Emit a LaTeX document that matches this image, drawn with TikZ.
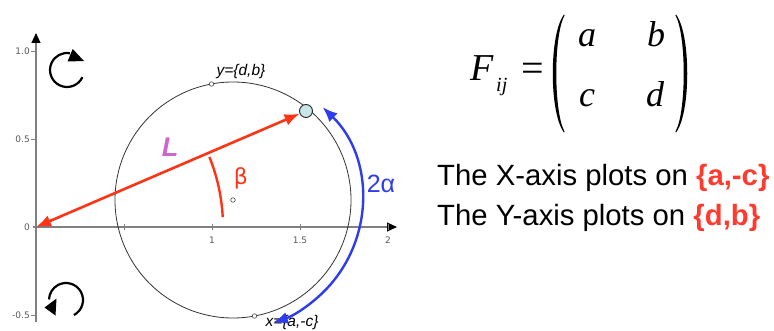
\documentclass[tikz,border=0pt]{standalone}
\usepackage{fontspec}
\setmainfont{Liberation Sans}
\newfontfamily\tms{Liberation Serif}
\newfontfamily\djv{DejaVu Sans}
\usetikzlibrary{arrows.meta,calc}
\definecolor{redl}{HTML}{FF3414}
\definecolor{redt}{HTML}{FF3B30}
\definecolor{bluel}{HTML}{2E3CF0}
\definecolor{orch}{HTML}{CC66CC}
\definecolor{pfill}{HTML}{C9E6E6}
\definecolor{axgray}{HTML}{808080}
\tikzset{
  axisline/.style={axgray, line width=1.1pt},
  ticklab/.style={text=black!65, font=\djv\fontsize{9}{10}\selectfont, inner sep=0pt},
  tickmark/.style={axgray, line width=0.9pt},
  dot/.style={circle, draw=black!70, fill=white, inner sep=0pt, minimum size=4.5pt, line width=0.6pt},
  rotarrow/.style={black, line width=2.2pt},
  mtx/.style={font=\tms\itshape\fontsize{36}{36}\selectfont, inner sep=0pt, anchor=base},
  desc/.style={font=\fontsize{29.3}{32}\selectfont, inner sep=0pt, anchor=base west},
  ptlab/.style={font=\itshape\fontsize{15.5}{16}\selectfont, inner sep=0pt},
}
\begin{document}
\begin{tikzpicture}[x=1pt,y=1pt]
\useasboundingbox (0,0) rectangle (774,330);
\coordinate (O) at (36,103);
\coordinate (C) at (233,130);
\coordinate (yb) at (36,8);
\coordinate (yt) at (36,297);
\coordinate (xl) at (33,103);
\coordinate (xr) at (397,103);
% axes
\draw[axisline, -{Triangle[length=10pt,width=9pt,color=black]}] (yb) -- (yt);
\draw[axisline, -{Triangle[length=10pt,width=9pt,color=black]}] (xl) -- (xr);
% ticks
\foreach \x in {124,212,300,388} \draw[tickmark] (\x,100) -- (\x,106);
\foreach \y in {279,191,15} \draw[tickmark] (31,\y) -- (36,\y);
\node[ticklab, anchor=east] (l10) at (30,279) {1.0};
\node[ticklab, anchor=east] (l05) at (30,191) {0.5};
\node[ticklab, anchor=east] (l0) at (30,103) {0};
\node[ticklab, anchor=east] (lm05) at (30,15) {-0.5};
\node[ticklab] (x1) at (212,90) {1};
\node[ticklab] (x15) at (300,90) {1.5};
\node[ticklab] (x2) at (388,90) {2};
% circle
\draw[black!80, line width=0.8pt] (C) circle[radius=118];
\node[dot] (cen) at (C) {};
\node[dot] (Yp) at ($(C)+(100.5:118)$) {};
\node[dot] (Xp) at ($(C)+(280.5:118)$) {};
\node[ptlab] (ylab) at (241,259) {y=\{d,b\}};
\node[ptlab] (xlab) at (292,8) {x=\{a,-c\}};
% point P
\node[circle, draw=black!85, fill=pfill, inner sep=0pt, minimum size=13pt, line width=0.9pt] (P) at (306,219) {};
% red vector
\draw[redl, line width=2.6pt, {Latex[length=15pt,width=12pt]}-{Latex[length=15pt,width=12pt]}] (O) -- (P);
% beta arc
\draw[redl, line width=2.4pt] ($(O)+(22:187)$) arc[start angle=22, end angle=3, radius=187];
\node[text=redl, font=\djv\fontsize{22}{24}\selectfont, inner sep=0pt] (beta) at (241,152) {β};
\node[text=orch, font=\bfseries\itshape\fontsize{27}{28}\selectfont, inner sep=0pt] (L) at (170,183) {L};
% blue arc
\draw[bluel, line width=2.4pt, {Latex[length=15pt,width=12pt]}-{Latex[length=15pt,width=12pt]}] ($(C)+(46:129)$) arc[start angle=46, end angle=-72, radius=129];
\node[text=bluel, font=\fontsize{25}{26}\selectfont, inner sep=0pt] (alpha) at (381,146) {2α};
% rotation arrows
\draw[rotarrow] ($(67,260)+(-25:17)$) arc[start angle=-25, end angle=-280, radius=17];
\fill[black] (72.7,281) -- (67.5,268.5) -- (84,269) -- cycle;
\draw[rotarrow] ($(66,30)+(-62:17)$) arc[start angle=-62, end angle=178, radius=17];
\fill[black] (44.5,22.5) -- (56.5,31.5) -- (55.5,14.5) -- cycle;
% matrix
\node[font=\tms\itshape\fontsize{38}{38}\selectfont, inner sep=0pt, anchor=base west] (F) at (470,249) {F};
\node[font=\tms\itshape\fontsize{20}{20}\selectfont, inner sep=0pt, anchor=base west] (ij) at (496,238) {ij};
\node[font=\tms\fontsize{40}{40}\selectfont, inner sep=0pt] (eq) at (533,258) {=};
\fill[black] (564,315.5) .. controls (549,296) and (549,217) .. (564,197.5) -- (564.6,198.2) .. controls (553.5,218) and (553.5,295) .. (564.6,314.8) -- cycle;
\fill[black] (676,315.5) .. controls (691,296) and (691,217) .. (676,197.5) -- (675.4,198.2) .. controls (686.5,218) and (686.5,295) .. (675.4,314.8) -- cycle;
\node[mtx] (ma) at (587,283) {a};
\node[mtx] (mb) at (656,283) {b};
\node[mtx] (mc) at (587,223) {c};
\node[mtx] (md) at (655,223) {d};
% text
\node[desc] (t1) at (437,145) {The X-axis plots on \textbf{\color{redt}\{a,-c\}}};
\node[desc] (t2) at (437,105) {The Y-axis plots on \textbf{\color{redt}\{d,b\}}};
\end{tikzpicture}
\end{document}
